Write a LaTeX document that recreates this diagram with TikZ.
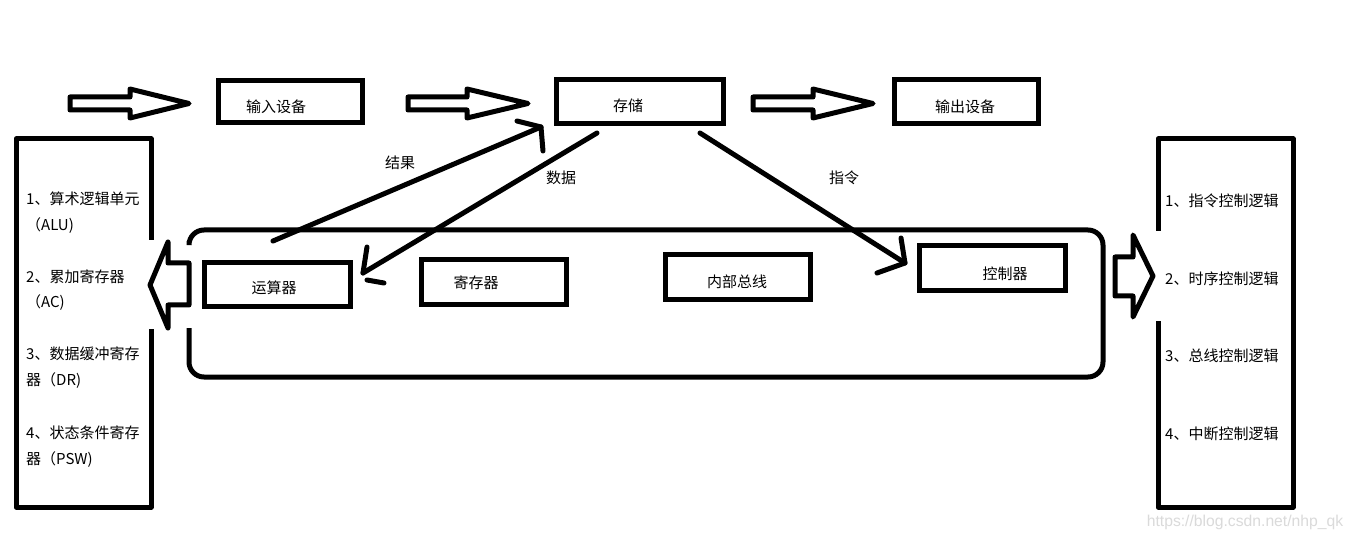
\documentclass[tikz,border=0pt]{standalone}
\usepackage{fontspec}
\newfontfamily\cjk{Noto Sans CJK SC}
\newfontfamily\wmfont{Liberation Sans}
\definecolor{wmgray}{RGB}{218,218,218}
\begin{document}
\begin{tikzpicture}[x=1pt,y=-1pt,
  box/.style={draw, line width=5pt, inner sep=0pt},
  lbl/.style={font=\cjk\fontsize{15}{18}\selectfont, inner sep=0pt},
  thk/.style={line width=5pt, line cap=round, line join=round},
  conn/.style={line width=5pt, line cap=round, line join=round}]
\useasboundingbox[fill=white] (0,0) rectangle (1353,540);

% top row boxes
\node[box, minimum width=144pt, minimum height=42pt] (in) at (290,102) {};
\node[box, minimum width=167pt, minimum height=44pt] (st) at (639.5,102) {};
\node[box, minimum width=144pt, minimum height=44pt] (out) at (966,102) {};
\node[lbl] (inT) at (276,107) {输入设备};
\node[lbl] (stT) at (628,106) {存储};
\node[lbl] (outT) at (965,107) {输出设备};

% hollow arrows top
\draw[thk] (70,97) -- (130,97) -- (130,89) -- (189,103.5) -- (130,118) -- (130,110) -- (70,110) -- cycle;
\draw[thk] (408,97) -- (467,97) -- (467,89) -- (528,103.5) -- (467,118) -- (467,110) -- (408,110) -- cycle;
\draw[thk] (753,97) -- (813,97) -- (813,89) -- (873,103.5) -- (813,118) -- (813,110) -- (753,110) -- cycle;

% left box
\draw[thk, line cap=butt] (151,240) -- (151,139) -- (16,139) -- (16,507) -- (151,507) -- (151,329);
\node[lbl, anchor=west] (l1) at (26,199) {1、算术逻辑单元};
\node[lbl, anchor=west] (l1b) at (26,226) {（ALU)};
\node[lbl, anchor=west] (l2) at (26,277) {2、累加寄存器};
\node[lbl, anchor=west] (l2b) at (26,303) {（AC)};
\node[lbl, anchor=west] (l3) at (26,354) {3、数据缓冲寄存};
\node[lbl, anchor=west] (l3b) at (26,381) {器（DR)};
\node[lbl, anchor=west] (l4) at (26,433) {4、状态条件寄存};
\node[lbl, anchor=west] (l4b) at (26,460) {器（PSW)};

% right box
\draw[thk, line cap=butt] (1158,231) -- (1158,139) -- (1293,139) -- (1293,507) -- (1158,507) -- (1158,321);
\node[lbl, anchor=west] (r1) at (1165,201) {1、指令控制逻辑};
\node[lbl, anchor=west] (r2) at (1165,279) {2、时序控制逻辑};
\node[lbl, anchor=west] (r3) at (1165,356) {3、总线控制逻辑};
\node[lbl, anchor=west] (r4) at (1165,434) {4、中断控制逻辑};

% rounded CPU box
\draw[line width=5pt, rounded corners=15pt] (189,241) -- (189,230) -- (1103,230) -- (1103,377) -- (189,377) -- (189,328);

% left hollow arrow
\draw[thk] (189,263) -- (168,263) -- (168,242) -- (150,285) -- (168,328) -- (168,305) -- (189,305) -- cycle;
% right hollow arrow
\draw[thk] (1115,257) -- (1133,257) -- (1133,235) -- (1153,276) -- (1133,317) -- (1133,296) -- (1115,296) -- cycle;

% inner boxes
\node[box, minimum width=146pt, minimum height=44pt] (ys) at (277,285) {};
\node[box, minimum width=145pt, minimum height=45pt] (jc) at (493.5,282.5) {};
\node[box, minimum width=145pt, minimum height=45pt] (nb) at (737.5,277.5) {};
\node[box, minimum width=146pt, minimum height=45pt] (kz) at (992,268.5) {};
\node[lbl] (ysT) at (274,288) {运算器};
\node[lbl] (jcT) at (476,283) {寄存器};
\node[lbl] (nbT) at (737,282) {内部总线};
\node[lbl] (kzT) at (1005,274) {控制器};

% connectors
\coordinate (jgS) at (273,241);
\coordinate (jgT) at (541,127);
\coordinate (jgB1) at (517,121);
\coordinate (jgB2) at (543,151);
\draw[conn] (jgS) -- (jgT);
\draw[conn] (jgB1) -- (jgT) -- (jgB2);

\coordinate (sjS) at (597,133);
\coordinate (sjT) at (363,273);
\coordinate (sjB1) at (367,247);
\coordinate (sjB2a) at (367,280);
\coordinate (sjB2b) at (384,283);
\draw[conn] (sjS) -- (sjT);
\draw[conn] (sjB1) -- (sjT);
\draw[conn] (sjB2a) -- (sjB2b);

\coordinate (zlS) at (700,133);
\coordinate (zlT) at (905,263);
\coordinate (zlB1) at (901,238);
\coordinate (zlB2) at (877,273);
\draw[conn] (zlS) -- (zlT);
\draw[conn] (zlB1) -- (zlT) -- (zlB2);

\node[lbl] (jgL) at (400,163) {结果};
\node[lbl] (sjL) at (561,178) {数据};
\node[lbl] (zlL) at (844,178) {指令};

% watermark
\node[font=\wmfont\fontsize{15.7}{18}\selectfont, text=wmgray, inner sep=0pt] (wm) at (1245,522) {https://blog.csdn.net/nhp\_qk};
\end{tikzpicture}
\end{document}
